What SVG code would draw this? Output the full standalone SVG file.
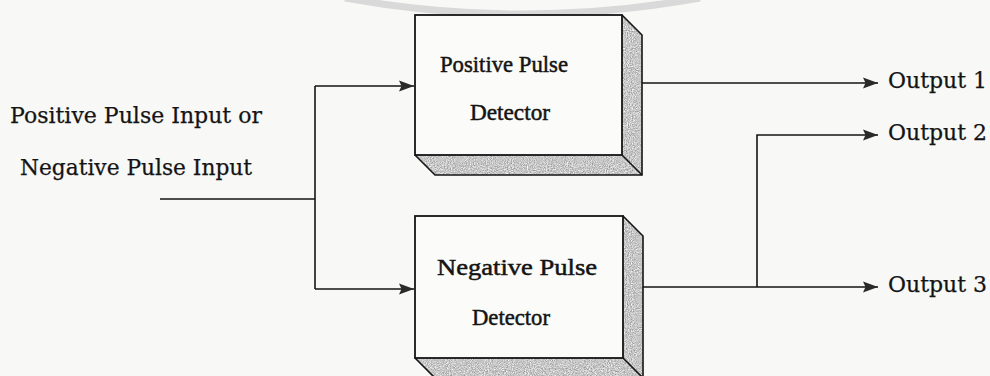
<svg xmlns="http://www.w3.org/2000/svg" width="990" height="376" viewBox="0 0 990 376">
  <defs>
    <style>
      .wire { fill: none; stroke: #151515; stroke-width: 1.6; }
      .face { fill: #fbfbf9; stroke: #151515; stroke-width: 1.8; }
      .side { stroke: none; filter: url(#grain); fill: #000; }
      .edge { fill: none; stroke: #151515; stroke-width: 1.6; stroke-linejoin: miter; }
      .lbl { font-family: "DejaVu Serif", "Liberation Serif", serif; fill: #141414; stroke: #141414; stroke-width: 0.25; }
      .box { font-family: "Liberation Serif", "Times New Roman", serif; font-size: 24px; stroke-width: 0.5; }
    </style>
    <filter id="grain" x="0" y="0" width="1" height="1" color-interpolation-filters="sRGB">
      <feTurbulence type="fractalNoise" baseFrequency="0.95" numOctaves="2" seed="7" result="n"/>
      <feColorMatrix in="n" type="saturate" values="0" result="g"/>
      <feComponentTransfer in="g" result="t">
        <feFuncR type="linear" slope="0.8" intercept="0.38"/>
        <feFuncG type="linear" slope="0.8" intercept="0.38"/>
        <feFuncB type="linear" slope="0.8" intercept="0.38"/>
        <feFuncA type="linear" slope="0" intercept="1"/>
      </feComponentTransfer>
      <feComposite in="t" in2="SourceGraphic" operator="in"/>
    </filter>
    <marker id="arr" markerUnits="userSpaceOnUse" markerWidth="18" markerHeight="14" refX="15" refY="7" orient="auto">
      <path d="M0,1.5 L15,7 L0,12.5 L2.5,7 Z" fill="#2a2a2a"/>
    </marker>
  </defs>

  <rect x="0" y="0" width="990" height="376" fill="#f8f8f6"/>

  <!-- faint arc along the top edge -->
  <path d="M345,-2 Q520,30 700,-2" fill="none" stroke="#d9d9d9" stroke-width="7"/>

  <!-- input caption -->
  <g id="input-label">
    <text class="lbl" x="10" y="123" font-size="22" textLength="252" lengthAdjust="spacingAndGlyphs">Positive Pulse Input or</text>
    <text class="lbl" x="20" y="175" font-size="22" textLength="232" lengthAdjust="spacingAndGlyphs">Negative Pulse Input</text>
  </g>

  <!-- positive detector block -->
  <g id="positive-detector">
    <polygon class="side" points="622,15 642,35 642,175 622,155"/>
    <polygon class="side" points="415,155 622,155 642,175 435,175"/>
    <rect class="face" x="415" y="15" width="207" height="140"/>
    <polyline class="edge" points="622,15 642,35 642,175 435,175 415,155"/>
    <line class="edge" x1="622" y1="155" x2="642" y2="175"/>
    <text class="lbl box" x="440" y="72" textLength="128" lengthAdjust="spacingAndGlyphs">Positive Pulse</text>
    <text class="lbl box" x="470" y="120" textLength="80" lengthAdjust="spacingAndGlyphs">Detector</text>
  </g>

  <!-- negative detector block -->
  <g id="negative-detector">
    <polygon class="side" points="623,216 643,236 643,378 623,358"/>
    <polygon class="side" points="415,358 623,358 643,378 435,378"/>
    <rect class="face" x="415" y="216" width="208" height="142"/>
    <polyline class="edge" points="623,216 643,236 643,378 435,378 415,358"/>
    <line class="edge" x1="623" y1="358" x2="643" y2="378"/>
    <text class="lbl box" x="437" y="275" font-size="27" textLength="160" lengthAdjust="spacingAndGlyphs">Negative Pulse</text>
    <text class="lbl box" x="472" y="325" textLength="78" lengthAdjust="spacingAndGlyphs">Detector</text>
  </g>

  <!-- output captions -->
  <g id="output-1"><text class="lbl" x="888" y="88" font-size="22" textLength="99" lengthAdjust="spacingAndGlyphs">Output 1</text></g>
  <g id="output-2"><text class="lbl" x="888" y="140" font-size="22" textLength="99" lengthAdjust="spacingAndGlyphs">Output 2</text></g>
  <g id="output-3"><text class="lbl" x="888" y="292" font-size="22" textLength="99" lengthAdjust="spacingAndGlyphs">Output 3</text></g>

  <!-- connectors -->
  <g id="connectors">
    <line class="wire" x1="160" y1="199" x2="315" y2="199"/>
    <line class="wire" x1="315" y1="86" x2="315" y2="289"/>
    <line class="wire" x1="315" y1="86" x2="414" y2="86" marker-end="url(#arr)"/>
    <line class="wire" x1="315" y1="289" x2="414" y2="289" marker-end="url(#arr)"/>
    <line class="wire" x1="642" y1="83" x2="878" y2="83" marker-end="url(#arr)"/>
    <line class="wire" x1="643" y1="287" x2="878" y2="287" marker-end="url(#arr)"/>
    <polyline class="wire" points="757,287 757,135 878,135" marker-end="url(#arr)"/>
  </g>
</svg>
